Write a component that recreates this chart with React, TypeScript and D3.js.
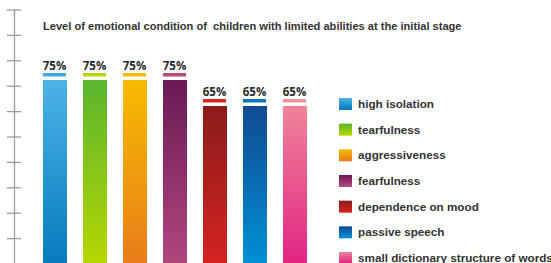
import React from 'react';
import * as d3 from 'd3';

const categories = [
  'high isolation',
  'tearfulness',
  'aggressiveness',
  'fearfulness',
  'dependence on mood',
  'passive speech',
  'small dictionary structure of words',
];
const values = [75, 75, 75, 75, 65, 65, 65];
const labels = ['75%', '75%', '75%', '75%', '65%', '65%', '65%'];
const topColors = ['#4cb3e6', '#5ab52e', '#f6bb00', '#6a1a55', '#8a1c1c', '#114a93', '#ef8399'];
const bottomColors = ['#0077bb', '#bcd800', '#e8791c', '#b5497f', '#da2420', '#0094da', '#e01e80'];
const capColors = ['#3fa9e0', '#b8d400', '#f5b800', '#b5487e', '#d9251d', '#0077bb', '#f0909e'];
const axisTicks = [10, 20, 30, 40, 50, 60, 70, 80, 90, 100];

const title = 'Level of emotional condition of  children with limited abilities at the initial stage';

const W = 551;
const H = 263;

const App = () => {
  const x = d3.scaleBand<string>().domain(categories).range([35, 315]).paddingInner(0.4).paddingOuter(0.2);
  const y = d3.scaleLinear().domain([0, 100]).range([275, 15]);
  const axisY = d3.scaleLinear().domain([0, 100]).range([264, 10]);
  const legendY = d3.scalePoint<string>().domain(categories).range([104, 258]);

  return (
    <div style={{ position: 'absolute', left: 0, top: 0 }}>
      <svg width={W} height={H} style={{ display: 'block' }}>
        <defs>
          {categories.map((c, i) => (
            <linearGradient key={c} id={`grad${i}`} x1="0" x2="0" y1="0" y2="1">
              <stop offset="0%" stopColor={topColors[i]} />
              <stop offset="100%" stopColor={bottomColors[i]} />
            </linearGradient>
          ))}
        </defs>
        <rect width={W} height={H} fill="#fff" />

        {/* left decorative axis */}
        <line x1={14.5} x2={14.5} y1={axisY(100)} y2={H} stroke="#9a9a9a" strokeWidth={1.3} />
        {axisTicks.map(t => (
          <line key={t} x1={7} x2={21} y1={axisY(t)} y2={axisY(t)} stroke="#9a9a9a" strokeWidth={1.3} />
        ))}

        <text
          x={43}
          y={30}
          fontFamily="'Liberation Sans', Arial, sans-serif"
          fontWeight="bold"
          fontSize={11.1}
          fill="#333"
          style={{ whiteSpace: 'pre' }}
        >
          {title}
        </text>

        {categories.map((c, i) => {
          const bx = x(c) as number;
          const top = y(values[i]);
          return (
            <g key={c}>
              <rect x={bx} y={top} width={x.bandwidth()} height={y(0) - top} fill={`url(#grad${i})`} />
              <rect x={bx} y={top - 7} width={x.bandwidth() - 1} height={3.5} fill={capColors[i]} />
              <text
                x={bx + x.bandwidth() / 2 - 0.5}
                y={top - 10}
                textAnchor="middle"
                fontFamily="'Open Sans', sans-serif"
                fontWeight="bold"
                fontSize={11.5}
                fill="#2a2a2a"
              >
                {labels[i]}
              </text>
            </g>
          );
        })}

        {categories.map((c, i) => {
          const cy = legendY(c) as number;
          return (
            <g key={c}>
              <rect x={339} y={cy - 6} width={13} height={12} fill={`url(#grad${i})`} />
              <text x={358} y={cy + 4} fontFamily="'Liberation Sans', Arial, sans-serif" fontWeight="bold" fontSize={11.7} fill="#333">
                {c}
              </text>
            </g>
          );
        })}
      </svg>
    </div>
  );
};

export default App;
